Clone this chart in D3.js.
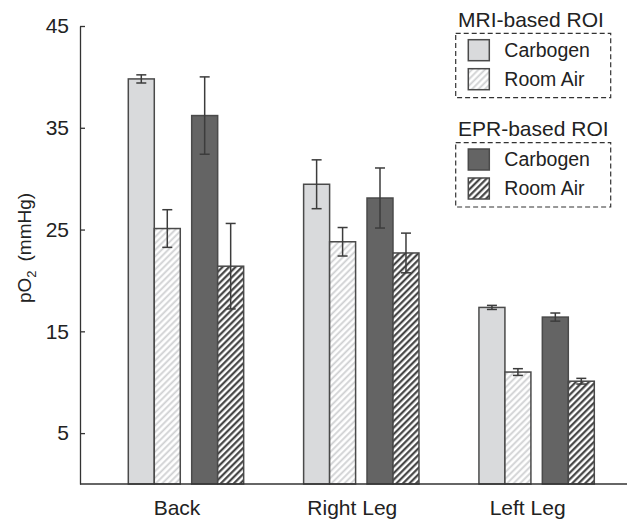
<!DOCTYPE html>
<html>
<head>
<meta charset="utf-8">
<script src="https://cdn.jsdelivr.net/npm/d3@7"></script>
<style>
  html, body { margin: 0; padding: 0; background: #fff; }
  svg { display: block; }
  text { font-family: "Liberation Sans", Arial, sans-serif; fill: #222; }
</style>
</head>
<body>
<svg id="chart" width="630" height="521"></svg>
<script>
// ---- Data ----
const categories = ["Back", "Right Leg", "Left Leg"];
const seriesNames = ["MRI Carbogen", "MRI Room Air", "EPR Carbogen", "EPR Room Air"];
const mriCarbogen    = [39.8, 29.45, 17.35];
const mriCarbogenErr = [0.4, 2.4, 0.2];
const mriRoomAir     = [25.1, 23.8, 11.0];
const mriRoomAirErr  = [1.85, 1.4, 0.33];
const eprCarbogen    = [36.2, 28.1, 16.4];
const eprCarbogenErr = [3.8, 2.95, 0.4];
const eprRoomAir     = [21.4, 22.7, 10.1];
const eprRoomAirErr  = [4.2, 1.95, 0.28];
const yTicks = [5, 15, 25, 35, 45];
const legendGroups = ["MRI-based ROI", "EPR-based ROI"];
const legendEntries = ["Carbogen", "Room Air"];

const seriesValues = [mriCarbogen, mriRoomAir, eprCarbogen, eprRoomAir];
const seriesErrors = [mriCarbogenErr, mriRoomAirErr, eprCarbogenErr, eprRoomAirErr];

// ---- Setup ----
const svg = d3.select("#chart");
const defs = svg.append("defs");

function hatch(id, color, width) {
  const p = defs.append("pattern")
    .attr("id", id)
    .attr("patternUnits", "userSpaceOnUse")
    .attr("width", 4.6).attr("height", 10)
    .attr("patternTransform", "rotate(45)");
  p.append("rect").attr("width", 4.6).attr("height", 10).attr("fill", "#fff");
  p.append("line").attr("x1", 1.2).attr("x2", 1.2).attr("y1", 0).attr("y2", 10)
    .attr("stroke", color).attr("stroke-width", width);
}
hatch("hatchLight", "#cfd0d2", 1.8);
hatch("hatchDark", "#3a3a3a", 2.1);

const fills = ["#d9dadc", "url(#hatchLight)", "#646464", "url(#hatchDark)"];

const y = d3.scaleLinear().domain([0, 45]).range([484, 26]);

const xGroup = d3.scaleBand().domain(categories)
  .range([128.3, 594.3]).paddingInner(0.342).paddingOuter(0);
const xPair = d3.scaleBand().domain(["MRI", "EPR"])
  .range([0, xGroup.bandwidth()]).paddingInner(0.18).paddingOuter(0);
const xCond = d3.scaleBand().domain(["Carbogen", "Room Air"])
  .range([0, xPair.bandwidth()]).padding(0);

function seriesX(si) {
  return xPair(si < 2 ? "MRI" : "EPR") + xCond(si % 2 === 0 ? "Carbogen" : "Room Air");
}

// ---- Bars ----
const barData = [];
categories.forEach((c, ci) => {
  seriesNames.forEach((s, si) => {
    barData.push({ c, si, v: seriesValues[si][ci], e: seriesErrors[si][ci] });
  });
});

const bars = svg.append("g");
bars.selectAll("rect").data(barData).join("rect")
  .attr("x", d => xGroup(d.c) + seriesX(d.si))
  .attr("y", d => y(d.v))
  .attr("width", xCond.bandwidth())
  .attr("height", d => y(0) - y(d.v))
  .attr("fill", d => fills[d.si])
  .attr("stroke", "#4a4a4a")
  .attr("stroke-width", 1.5);

// ---- Error bars ----
const eg = svg.append("g").attr("stroke", "#3c3c3c").attr("stroke-width", 1.5);
barData.forEach(d => {
  const cx = xGroup(d.c) + seriesX(d.si) + xCond.bandwidth() / 2;
  const y1 = y(d.v + d.e), y2 = y(d.v - d.e);
  eg.append("line").attr("x1", cx).attr("x2", cx).attr("y1", y1).attr("y2", y2);
  eg.append("line").attr("x1", cx - 5).attr("x2", cx + 5).attr("y1", y1).attr("y2", y1);
  eg.append("line").attr("x1", cx - 5).attr("x2", cx + 5).attr("y1", y2).attr("y2", y2);
});

// ---- Axes ----
const yAxis = d3.axisLeft(y).tickValues(yTicks).tickSizeInner(-5).tickSizeOuter(0).tickPadding(11);
const ya = svg.append("g").attr("transform", "translate(80,0)").call(yAxis);
ya.select(".domain").attr("stroke", "#333").attr("stroke-width", 1.3);
ya.selectAll(".tick line").attr("stroke", "#333").attr("stroke-width", 1.3);
ya.selectAll(".tick text").attr("font-size", 21)
  .attr("font-family", "Liberation Sans, Arial, sans-serif").attr("fill", "#222");

svg.append("line").attr("x1", 80).attr("x2", 627).attr("y1", y(0)).attr("y2", y(0))
  .attr("stroke", "#333").attr("stroke-width", 1.3);

svg.append("g").selectAll("text").data(categories).join("text")
  .attr("x", c => xGroup(c) + xGroup.bandwidth() / 2 - 9)
  .attr("y", 515)
  .attr("text-anchor", "middle")
  .attr("font-size", 21)
  .text(c => c);

// ---- Y label ----
const yl = svg.append("text")
  .attr("transform", "translate(31,248) rotate(-90)")
  .attr("text-anchor", "middle")
  .attr("font-size", 19);
yl.append("tspan").text("pO");
yl.append("tspan").attr("font-size", 13).attr("dy", 5).text("2");
yl.append("tspan").attr("dy", -5).attr("dx", 9).text("(mmHg)");

// ---- Legend ----
const legendTop = [26.7, 136];
legendGroups.forEach((g, gi) => {
  const top = legendTop[gi];
  svg.append("text").attr("x", 458).attr("y", top).attr("font-size", 21).text(g);
  svg.append("rect").attr("x", 455.7).attr("y", top + 6.6).attr("width", 155).attr("height", 64.4)
    .attr("fill", "none").attr("stroke", "#333").attr("stroke-width", 1.2)
    .attr("stroke-dasharray", "5,3");
  legendEntries.forEach((e, ei) => {
    const si = gi * 2 + ei;
    const sy = top + 13 + ei * 29;
    svg.append("rect").attr("x", 468.3).attr("y", sy).attr("width", 21).attr("height", 21)
      .attr("fill", fills[si]).attr("stroke", "#4a4a4a").attr("stroke-width", 1.5);
    svg.append("text").attr("x", 504.3).attr("y", sy + 17).attr("font-size", 19.5).text(e);
  });
});
</script>
</body>
</html>
